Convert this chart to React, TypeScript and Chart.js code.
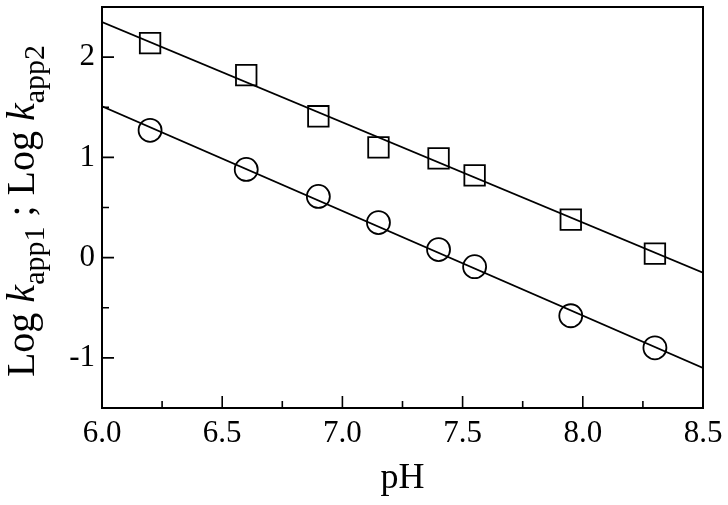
import React, { useEffect, useRef } from "react";
import { Chart, registerables } from "chart.js";

Chart.register(...registerables);

// ---- data ----
const PH = [6.2, 6.6, 6.9, 7.15, 7.4, 7.55, 7.95, 8.3];
const LOG_KAPP2 = [2.14, 1.82, 1.41, 1.1, 0.99, 0.82, 0.38, 0.04]; // squares
const LOG_KAPP1 = [1.27, 0.88, 0.61, 0.35, 0.08, -0.09, -0.58, -0.9]; // circles
const FIT_X = [6.0, 8.5];
const FIT_KAPP2 = [2.35, -0.15];
const FIT_KAPP1 = [1.51, -1.1];

const X_MAJOR = [6.0, 6.5, 7.0, 7.5, 8.0, 8.5];
const X_MINOR = [6.25, 6.75, 7.25, 7.75, 8.25];
const Y_MAJOR = [-1, 0, 1, 2];
const Y_MINOR = [-0.5, 0.5, 1.5];

const FONT = "'Liberation Serif', 'Times New Roman', serif";

const framePlugin = {
  id: "frameTicks",
  afterDraw(chart: any) {
    const { ctx, chartArea, scales } = chart;
    const { left, right, top, bottom } = chartArea;
    ctx.save();
    ctx.strokeStyle = "#000";
    ctx.lineWidth = 2;
    ctx.strokeRect(left, top, right - left, bottom - top);
    ctx.lineWidth = 1.6;
    ctx.beginPath();
    X_MAJOR.forEach((v) => {
      const x = scales.x.getPixelForValue(v);
      ctx.moveTo(x, bottom);
      ctx.lineTo(x, bottom - 12);
    });
    X_MINOR.forEach((v) => {
      const x = scales.x.getPixelForValue(v);
      ctx.moveTo(x, bottom);
      ctx.lineTo(x, bottom - 7);
    });
    Y_MAJOR.forEach((v) => {
      const y = scales.y.getPixelForValue(v);
      ctx.moveTo(left, y);
      ctx.lineTo(left + 12, y);
    });
    Y_MINOR.forEach((v) => {
      const y = scales.y.getPixelForValue(v);
      ctx.moveTo(left, y);
      ctx.lineTo(left + 7, y);
    });
    ctx.stroke();

    // y-axis title with italic k and subscripts
    const M = 40;
    const S = 30;
    const segs = [
      { t: "Log ", f: `${M}px ${FONT}`, dy: 0 },
      { t: "k", f: `italic ${M}px ${FONT}`, dy: 0 },
      { t: "app1", f: `${S}px ${FONT}`, dy: 10 },
      { t: " ; Log ", f: `${M}px ${FONT}`, dy: 0 },
      { t: "k", f: `italic ${M}px ${FONT}`, dy: 0 },
      { t: "app2", f: `${S}px ${FONT}`, dy: 10 },
    ];
    let total = 0;
    const widths = segs.map((s) => {
      ctx.font = s.f;
      const w = ctx.measureText(s.t).width;
      total += w;
      return w;
    });
    ctx.translate(34, 211);
    ctx.rotate(-Math.PI / 2);
    ctx.fillStyle = "#000";
    ctx.textBaseline = "alphabetic";
    ctx.textAlign = "left";
    let x = -total / 2;
    segs.forEach((s, i) => {
      ctx.font = s.f;
      ctx.fillText(s.t, x, s.dy);
      x += widths[i];
    });
    ctx.restore();
  },
};

const zero = () => ({ left: 0, right: 0, top: 0, bottom: 0 });
const noPad = (s: any) => {
  s.paddingTop = 0;
  s.paddingBottom = 0;
  s.paddingLeft = 0;
  s.paddingRight = 0;
  s.getPadding = zero;
};

export default function App() {
  const ref = useRef<HTMLCanvasElement>(null);
  useEffect(() => {
    document.body.style.margin = "0";
    const chart = new Chart(ref.current!, {
      type: "scatter",
      data: {
        datasets: [
          {
            label: "fit kapp2",
            data: FIT_X.map((x, i) => ({ x, y: FIT_KAPP2[i] })),
            showLine: true,
            borderColor: "#000",
            borderWidth: 1.8,
            pointRadius: 0,
          },
          {
            label: "fit kapp1",
            data: FIT_X.map((x, i) => ({ x, y: FIT_KAPP1[i] })),
            showLine: true,
            borderColor: "#000",
            borderWidth: 1.8,
            pointRadius: 0,
          },
          {
            label: "log kapp2",
            data: PH.map((x, i) => ({ x, y: LOG_KAPP2[i] })),
            pointStyle: "rect",
            pointRadius: 14.5,
            borderColor: "#000",
            backgroundColor: "rgba(0,0,0,0)",
            borderWidth: 1.8,
          },
          {
            label: "log kapp1",
            data: PH.map((x, i) => ({ x, y: LOG_KAPP1[i] })),
            pointStyle: "circle",
            pointRadius: 11.5,
            borderColor: "#000",
            backgroundColor: "rgba(0,0,0,0)",
            borderWidth: 1.8,
          },
        ],
      },
      options: {
        responsive: false,
        animation: false,
        events: [],
        layout: { autoPadding: false, padding: { left: 0, right: 25, top: 7, bottom: 0 } },
        plugins: { legend: { display: false }, tooltip: { enabled: false } },
        scales: {
          x: {
            type: "linear",
            min: 6.0,
            max: 8.5,
            grid: { display: false, drawTicks: false },
            border: { display: false },
            afterBuildTicks: (s: any) => {
              s.ticks = X_MAJOR.map((v) => ({ value: v }));
            },
            afterFit: (s: any) => {
              s.height = 97;
              noPad(s);
            },
            ticks: {
              color: "#000",
              font: { family: FONT, size: 31 },
              padding: 7,
              maxRotation: 0,
              callback: (v: any) => Number(v).toFixed(1),
            },
            title: {
              display: true,
              text: "pH",
              color: "#000",
              font: { family: FONT, size: 36 },
              padding: { top: 0, bottom: 5 },
            },
          },
          y: {
            type: "linear",
            min: -1.5,
            max: 2.5,
            grid: { display: false, drawTicks: false },
            border: { display: false },
            afterBuildTicks: (s: any) => {
              s.ticks = Y_MAJOR.map((v) => ({ value: v }));
            },
            afterFit: (s: any) => {
              s.width = 102;
              noPad(s);
            },
            ticks: {
              color: "#000",
              font: { family: FONT, size: 31 },
              padding: 7,
              callback: (v: any) => String(v),
            },
          },
        },
      },
      plugins: [framePlugin],
    });
    return () => chart.destroy();
  }, []);
  return (
    <div style={{ position: "absolute", left: 0, top: 0, width: 728, height: 505, background: "#fff" }}>
      <canvas ref={ref} width={728} height={505} />
    </div>
  );
}
